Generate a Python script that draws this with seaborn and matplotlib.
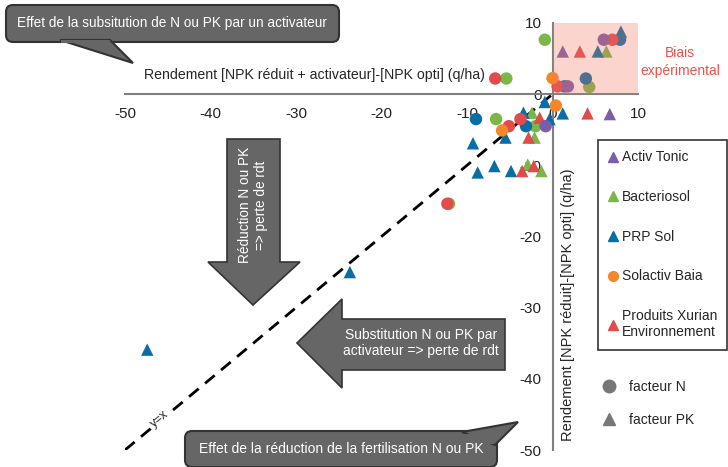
import pandas as pd
import seaborn as sns
import matplotlib.pyplot as plt
from matplotlib.patches import Rectangle, Polygon, FancyBboxPatch
from matplotlib.lines import Line2D

# products / colours
products = ["Activ Tonic", "Bacteriosol", "PRP Sol", "Solactiv Baia", "Produits Xurian\nEnvironnement"]
colors = ["#7b5ea7", "#7ab648", "#0a6ea6", "#f5862a", "#e04b4b"]

# values: x = [NPK réduit + activateur]-[NPK opti], y = [NPK réduit]-[NPK opti]
activ_n_x = [6.0, 1.8, -0.8]
activ_n_y = [7.65, 1.1, -4.5]
activ_pk_x = [1.2, 6.7]
activ_pk_y = [6.0, -2.8]

bact_n_x = [-0.9, -5.4, 4.3, -6.6, -2.0, -12.1]
bact_n_y = [7.65, 2.2, 1.0, -3.5, -4.5, -15.4]
bact_pk_x = [6.3, -2.4, -2.1, -2.9, -1.3]
bact_pk_y = [6.0, -2.6, -6.1, -9.9, -10.8]

prp_n_x = [7.9, 3.9, 1.4, -8.95, -3.1]
prp_n_y = [7.65, 2.2, 1.1, -3.5, -4.5]
prp_pk_x = [5.3, 8.0, -0.9, 1.2, -3.4, -0.35, -9.3, -5.5, -8.75, -6.8, -4.85, -23.7, -47.4]
prp_pk_y = [6.0, 8.8, -1.1, -2.7, -2.6, -3.5, -6.9, -6.1, -11.0, -10.1, -10.8, -25.0, -35.9]

sol_n_x = [0.0, 0.4, -5.9]
sol_n_y = [2.25, -1.6, -5.1]

xur_n_x = [7.0, -6.7, 0.6, -5.1, -3.75, -12.3]
xur_n_y = [7.65, 2.2, 1.1, -4.5, -3.5, -15.4]
xur_pk_x = [3.2, 4.1, -1.5, -2.8, -3.55, -2.2]
xur_pk_y = [6.0, -2.7, -3.3, -6.1, -10.8, -10.1]

ticks = [-50, -40, -30, -20, -10, 0, 10]

series = [
    (products[1], "N", bact_n_x, bact_n_y),
    (products[1], "PK", bact_pk_x, bact_pk_y),
    (products[2], "N", prp_n_x, prp_n_y),
    (products[2], "PK", prp_pk_x, prp_pk_y),
    (products[4], "N", xur_n_x, xur_n_y),
    (products[4], "PK", xur_pk_x, xur_pk_y),
    (products[3], "N", sol_n_x, sol_n_y),
    (products[0], "N", activ_n_x, activ_n_y),
    (products[0], "PK", activ_pk_x, activ_pk_y),
]
frames = []
for prod, fac, xs, ys in series:
    frames.append(pd.DataFrame({"produit": prod, "facteur": fac, "x": xs, "y": ys}))
df = pd.concat(frames, ignore_index=True)

sns.set_style("white")
plt.rcParams["font.family"] = ["Liberation Sans", "DejaVu Sans"]
plt.rcParams["axes.unicode_minus"] = False

fig = plt.figure(figsize=(7.28, 4.67), dpi=100)
W, H = 728, 467
ax = fig.add_axes([125 / W, 17 / H, 513 / W, 427 / H])

sns.scatterplot(data=df, x="x", y="y", hue="produit", style="facteur",
                palette=dict(zip(products, colors)), markers={"N": "o", "PK": "^"},
                s=80, linewidth=0, legend=False, ax=ax, zorder=3)

# y = x reference
ax.plot([-50, 0], [-50, 0], color="black", lw=2, dashes=(4.5, 3), zorder=2)
ax.text(-46.0, -45.6, "y=x", rotation=40, fontsize=9, ha="center", va="center",
        bbox=dict(fc="white", ec="none", pad=0.5), zorder=2.5)

# experimental bias zone
ax.add_patch(Rectangle((0, 0), 10, 10, facecolor="#f2735f", alpha=0.3, lw=0, zorder=4))
ax.text((680 - 125) / 513, (467 - 62 - 17) / 427, "Biais\nexpérimental", transform=ax.transAxes,
        color="#f0504a", fontsize=10, ha="center", va="center", linespacing=1.3)

ax.set_xlim(-50, 10)
ax.set_ylim(-50, 10)
ax.set_xticks(ticks)
ax.set_yticks(ticks)
for side in ["top", "right"]:
    ax.spines[side].set_visible(False)
for side in ["left", "bottom"]:
    ax.spines[side].set_position(("data", 0))
    ax.spines[side].set_color("#808080")
    ax.spines[side].set_linewidth(1.5)
ax.tick_params(direction="out", length=5, width=1.5, color="#808080",
               labelsize=11, labelcolor="#222222")
ax.tick_params(axis="x", pad=4)
ax.tick_params(axis="y", pad=3)

ax.set_xlabel("Rendement [NPK réduit + activateur]-[NPK opti] (q/ha)", fontsize=10.2)
ax.xaxis.set_label_coords(0.37, 0.895)
ax.set_ylabel("Rendement [NPK réduit]-[NPK opti] (q/ha)", fontsize=10.5)
ax.yaxis.set_label_coords(0.877, 0.34)

# legends
handles = []
for prod, col in zip(products, colors):
    mk = "o" if prod == "Solactiv Baia" else "^"
    handles.append(Line2D([], [], ls="", marker=mk, color=col, markersize=7))
leg = ax.legend(handles, products, loc="upper left", bbox_to_anchor=(598 / W, 1 - 140 / H),
                bbox_transform=fig.transFigure, frameon=True, fontsize=10,
                handlelength=0.6, handletextpad=0.35, labelspacing=1.85,
                borderpad=0.75, borderaxespad=0, fancybox=False, edgecolor="black")
leg.get_frame().set_linewidth(1.2)
ax.add_artist(leg)
fac_handles = [Line2D([], [], ls="", marker="o", color="#777777", markersize=9),
               Line2D([], [], ls="", marker="^", color="#777777", markersize=9)]
ax.legend(fac_handles, ["facteur N", "facteur PK"], loc="upper left",
          bbox_to_anchor=(596 / W, 1 - 374 / H), bbox_transform=fig.transFigure,
          frameon=False, fontsize=10, handlelength=1.0, handletextpad=1.0,
          labelspacing=1.4, borderaxespad=0)

# callouts and arrows drawn in pixel space
ov = fig.add_axes([0, 0, 1, 1], zorder=10)
ov.set_xlim(0, W)
ov.set_ylim(H, 0)
ov.axis("off")
fill, edge = "#666666", "#333333"

ov.add_patch(FancyBboxPatch((6, 5), 333, 37, boxstyle="round,pad=0,rounding_size=7",
                            fc=fill, ec=edge, lw=1.5))
ov.add_patch(Polygon([(60, 40), (133, 63), (110, 40)], closed=True, fc=fill, ec=edge, lw=1.5))
ov.add_patch(Polygon([(61, 40), (110, 40), (110, 43), (61, 43)], closed=True, fc=fill, ec="none"))
ov.text(172, 23, "Effet de la subsitution de N ou PK par un activateur", color="white",
        fontsize=9.8, ha="center", va="center")

ov.add_patch(FancyBboxPatch((185, 431), 312, 36, boxstyle="round,pad=0,rounding_size=7",
                            fc=fill, ec=edge, lw=1.5))
ov.add_patch(Polygon([(462, 432), (518, 422), (495, 445)], closed=True, fc=fill, ec=edge, lw=1.5))
ov.add_patch(Polygon([(460, 434), (494, 434), (494, 444), (460, 444)], closed=True, fc=fill, ec="none"))
ov.text(341, 449, "Effet de la réduction de la fertilisation N ou PK", color="white",
        fontsize=10, ha="center", va="center")

down = [(227, 139), (280, 139), (280, 262), (300, 262), (253, 305), (208, 262), (227, 262)]
ov.add_patch(Polygon(down, closed=True, fc=fill, ec=edge, lw=1.2))
ov.text(253, 205, "Réduction N ou PK\n=> perte de rdt", color="white", fontsize=9.8,
        rotation=90, ha="center", va="center", linespacing=1.1)

left = [(297, 343), (342, 299), (342, 319), (505, 319), (505, 370), (342, 370), (342, 388)]
ov.add_patch(Polygon(left, closed=True, fc=fill, ec=edge, lw=1.2))
ov.text(421, 343, "Substitution N ou PK par\nactivateur => perte de rdt", color="white",
        fontsize=10, ha="center", va="center", linespacing=1.1)

fig.savefig("out.png", dpi=100)
